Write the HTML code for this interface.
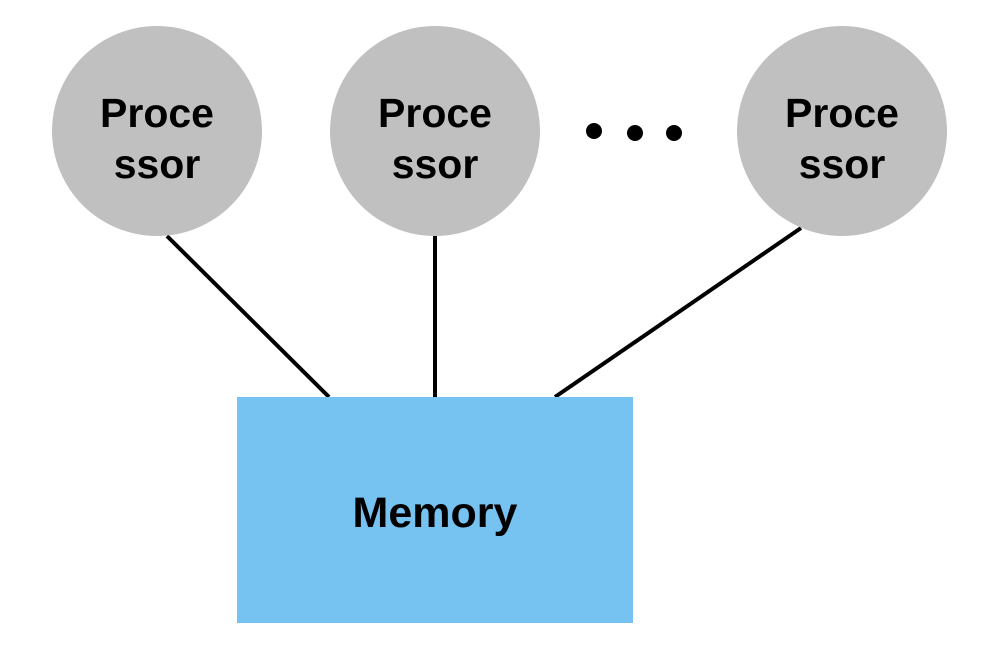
<!DOCTYPE html>
<html><head><style>html,body{margin:0;padding:0;background:#fff}</style></head>
<body>
<svg width="988" height="650" viewBox="0 0 988 650" xmlns="http://www.w3.org/2000/svg">
<g stroke="#000" stroke-width="4" stroke-linecap="butt">
<line x1="167" y1="236" x2="329" y2="397"/>
<line x1="435" y1="236" x2="435" y2="397"/>
<line x1="801" y1="228" x2="555" y2="397"/>
</g>
<g fill="#c0c0c0">
<circle cx="157" cy="131" r="105"/>
<circle cx="435" cy="131" r="105"/>
<circle cx="842" cy="131" r="105"/>
</g>
<g fill="#000">
<circle cx="594" cy="131" r="8"/>
<circle cx="635" cy="133" r="8"/>
<circle cx="674" cy="133" r="8"/>
</g>
<rect x="237" y="397" width="396" height="226" fill="#76c2f0"/>
<g font-family="Liberation Sans, sans-serif" font-size="41" text-anchor="middle" fill="#000" font-weight="bold">
<text x="157" y="127">Proce</text><text x="157" y="178">ssor</text>
<text x="435" y="127">Proce</text><text x="435" y="178">ssor</text>
<text x="842" y="127">Proce</text><text x="842" y="178">ssor</text>
<text x="435" y="527" font-size="43">Memory</text>
</g>
</svg>
</body></html>
